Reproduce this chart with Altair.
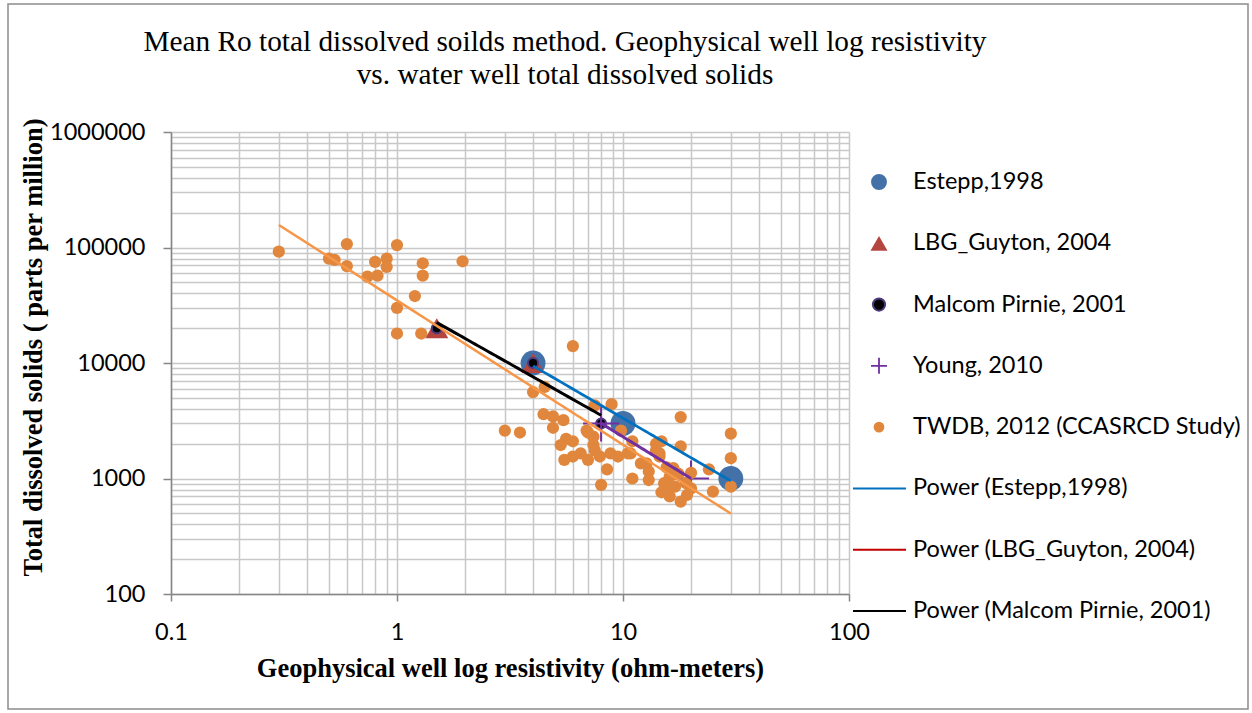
import altair as alt
import pandas as pd

# ---------------- data ----------------
estepp_x = [4, 10, 30]
estepp_y = [10000, 3000, 1000]

lbg_x = [1.5, 4]
lbg_y = [20000, 10000]

mp_x = [1.5, 4, 8]
mp_y = [20000, 10000, 3000]

young_x = [8, 20]
young_y = [3000, 1000]

twdb_x = [0.3, 0.5, 0.53, 0.6, 0.6, 0.74, 0.82, 0.8, 0.9, 0.9, 1.0, 1.3, 1.3, 1.95, 1.2, 1.0, 1.0, 1.28,
          6, 4, 4.5, 3, 3.5, 4.45, 4.9, 5.45, 4.9, 5.6, 6, 5.3, 5.5, 6, 6.5, 7, 7.4, 7.4, 7, 7.9, 8.8, 9.5,
          8.5, 8, 8.9, 7.5, 6.9, 7.5, 9.8, 10.8, 11, 11, 10.5,
          12, 12.7, 13, 13, 14, 14.8, 14, 14.5, 14.5, 15.6, 16.7, 17.6, 16.1, 15.2, 15.9, 14.8, 16.1, 18,
          19.2, 20, 19, 20, 18, 18, 24, 25, 30, 30, 30, 17]
twdb_y = [92000, 80000, 78000, 107000, 69000, 56000, 57000, 75000, 80000, 68000, 105000, 73000, 57000,
          76000, 38000, 30000, 18000, 18000,
          14000, 5600, 6200, 2600, 2500, 3600, 3450, 3200, 2750, 2200, 2100, 1950, 1450, 1550, 1650, 1450,
          1950, 2300, 2500, 1550, 1650, 1550, 1200, 880, 4400, 4300, 2600, 1750, 2600, 1650, 1000, 2100, 1650,
          1350, 1350, 1150, 970, 2000, 2100, 1750, 1650, 1550, 1250, 1230, 1100, 1040, 910, 820, 760, 700,
          630, 720, 820, 910, 1120, 3400, 1900, 1200, 770, 2450, 1500, 850, 850]

legend_labels = ["Estepp,1998", "LBG_Guyton, 2004", "Malcom Pirnie, 2001", "Young, 2010",
                 "TWDB, 2012 (CCASRCD Study)", "Power (Estepp,1998)", "Power (LBG_Guyton, 2004)",
                 "Power (Malcom Pirnie, 2001)"]

x_major = [0.1, 1, 10, 100]
y_major = [100, 1000, 10000, 100000, 1000000]
x_grid = [m * 10.0 ** e for e in (-1, 0, 1) for m in range(1, 10)] + [100]
y_grid = [m * 10 ** e for e in (2, 3, 4, 5) for m in range(1, 10)] + [1000000]

title_lines = ["Mean Ro total dissolved soilds method. Geophysical well log resistivity",
               "vs. water well total dissolved solids"]
x_title = "Geophysical well log resistivity (ohm-meters)"
y_title = "Total dissolved solids ( parts per million)"

# ---------------- styles ----------------
W, H = 678, 462
PAD = {"left": 171, "top": 132, "right": 1252 - 171 - W, "bottom": 713 - 132 - H}
SANS = "Lato"
SERIF = "Liberation Serif"
PLUS = "M-1,0L1,0M0,-1L0,1"

C_ESTEPP = "#4472A8"
C_LBG = "#B5453F"
C_YOUNG = "#7030A0"
C_TWDB = "#E0873D"
C_ESTEPP_LINE = "#0070C0"
C_LBG_LINE = "#C00000"
C_TWDB_LINE = "#F79646"


def frame(xs, ys):
    return pd.DataFrame({"x": xs, "y": ys})


xmaj = "[" + ",".join(str(v) for v in x_major) + "]"
ymaj = "[" + ",".join(str(v) for v in y_major) + "]"

X = alt.X("x:Q",
          scale=alt.Scale(type="log", domain=[0.1, 100], nice=False),
          axis=alt.Axis(values=x_grid, grid=True, format="~g", title=x_title,
                        labelExpr=f"indexof({xmaj}, datum.value) >= 0 ? datum.label : ''",
                        labelOverlap=False, labelFlush=False, tickSize=7, labelPadding=19,
                        tickOpacity={"condition": {"test": f"indexof({xmaj}, datum.value) >= 0", "value": 1},
                                     "value": 0},
                        titlePadding=12))
Y = alt.Y("y:Q",
          scale=alt.Scale(type="log", domain=[100, 1000000], nice=False),
          axis=alt.Axis(values=y_grid, grid=True, format="d", title=y_title,
                        labelExpr=f"indexof({ymaj}, datum.value) >= 0 ? datum.label : ''",
                        labelOverlap=False, tickSize=8, labelPadding=18,
                        tickOpacity={"condition": {"test": f"indexof({ymaj}, datum.value) >= 0", "value": 1},
                                     "value": 0},
                        titlePadding=2, titleY=215))

# ---------------- plot layers ----------------
estepp_pts = alt.Chart(frame(estepp_x, estepp_y)).mark_point(
    shape="circle", filled=True, color=C_ESTEPP, size=620, opacity=1).encode(x=X, y=Y)
lbg_pts = alt.Chart(frame(lbg_x, lbg_y)).mark_point(
    shape="triangle-up", filled=True, color=C_LBG, size=530, opacity=1).encode(x=X, y=Y)
mp_pts = alt.Chart(frame(mp_x, mp_y)).mark_point(
    shape="circle", filled=True, color="#000000", stroke="#4B3A7C", strokeWidth=2,
    size=100, opacity=1).encode(x=X, y=Y)
young_pts = alt.Chart(frame(young_x, young_y)).mark_point(
    shape=PLUS, filled=False, color=C_YOUNG, strokeWidth=2, size=1300, opacity=1).encode(x=X, y=Y)
twdb_pts = alt.Chart(frame(twdb_x, twdb_y)).mark_point(
    shape="circle", filled=True, color=C_TWDB, size=150, opacity=1).encode(x=X, y=Y)


def power_line(xs, ys, color, width):
    return alt.Chart(frame(xs, ys)).transform_regression(
        "x", "y", method="pow").mark_line(color=color, strokeWidth=width).encode(x=X, y=Y)


estepp_line = power_line(estepp_x, estepp_y, C_ESTEPP_LINE, 2.75)
mp_line = power_line(mp_x, mp_y, "#000000", 3)
young_line = power_line(young_x, young_y, C_YOUNG, 3)
twdb_line = power_line(twdb_x, twdb_y, C_TWDB_LINE, 2.5)

main = alt.layer(estepp_pts, lbg_pts, mp_pts, young_pts, twdb_pts,
                 estepp_line, mp_line, young_line, twdb_line)

# ---------------- legend (drawn with its own point scale) ----------------
LY = alt.Y("label:N", scale=alt.Scale(type="point", domain=legend_labels, range=[50, 479], padding=0),
           axis=None)
leg_base = alt.Chart(pd.DataFrame({"label": legend_labels}))


def leg_sym(i, **kw):
    return leg_base.transform_filter(alt.datum.label == legend_labels[i]).mark_point(
        clip=False, opacity=1, **kw).encode(x=alt.value(708), y=LY)


def leg_line(i, color):
    return leg_base.transform_filter(alt.datum.label == legend_labels[i]).mark_rule(
        color=color, strokeWidth=2, clip=False).encode(x=alt.value(682), x2=alt.value(735), y=LY)


leg_text = leg_base.mark_text(align="left", baseline="middle", font=SANS, fontSize=23.5,
                              color="#000000", clip=False).encode(x=alt.value(742), y=LY, text="label:N")

legend = alt.layer(
    leg_sym(0, shape="circle", filled=True, color=C_ESTEPP, size=254),
    leg_sym(1, shape="triangle-up", filled=True, color=C_LBG, size=289),
    leg_sym(2, shape="circle", filled=True, color="#000000", stroke="#4B3A7C", strokeWidth=2, size=150),
    leg_sym(3, shape=PLUS, filled=False, color=C_YOUNG, strokeWidth=1.8, size=256),
    leg_sym(4, shape="circle", filled=True, color=C_TWDB, size=115),
    leg_line(5, C_ESTEPP_LINE),
    leg_line(6, C_LBG_LINE),
    leg_line(7, "#000000"),
    leg_text,
)

border = alt.Chart(pd.DataFrame({"a": [0]})).mark_rect(
    filled=False, color="#8C8C8C", strokeWidth=1.5, clip=False).encode(
    x=alt.value(8 - 171), x2=alt.value(1248 - 171), y=alt.value(4 - 132), y2=alt.value(709 - 132))

chart = alt.layer(border, main, legend).resolve_scale(y="independent").properties(
    width=W, height=H,
    autosize=alt.AutoSizeParams(type="none"),
    padding=PAD,
    title=alt.TitleParams(text=title_lines, font=SERIF, fontSize=29.3, fontWeight="normal",
                          color="#000000", anchor="middle", dx=55, dy=87, offset=0, lineHeight=33),
).configure_view(strokeWidth=0).configure_axis(
    gridColor="#C8C8C8", gridWidth=1.5, domainColor="#868686", domainWidth=1.5,
    tickColor="#868686", tickWidth=1.5,
    labelFont=SANS, labelFontSize=23.5, labelColor="#000000",
    titleFont=SERIF, titleFontSize=26.5, titleFontWeight="bold", titleColor="#000000",
)

chart.save("out.html", embed_options={"renderer": "svg", "actions": False})
